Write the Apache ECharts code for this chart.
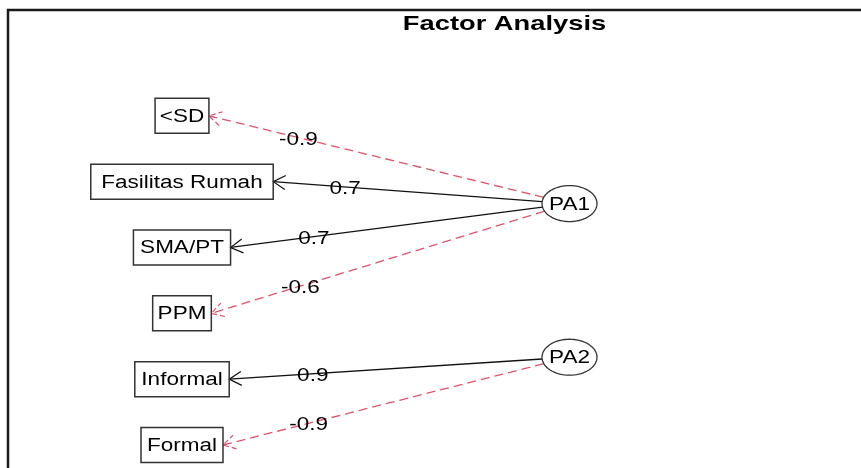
<!DOCTYPE html>
<html><head><meta charset="utf-8">
<script src="https://cdn.jsdelivr.net/npm/echarts@6/dist/echarts.min.js"></script>
<style>html,body{margin:0;padding:0;background:#fff}#c{width:861px;height:468px}</style>
</head><body><div id="c"></div>
<script>
// ---- data ----
const chartTitle = 'Factor Analysis';
const variables = ['<SD', 'Fasilitas Rumah', 'SMA/PT', 'PPM', 'Informal', 'Formal'];
const loadings = [-0.9, 0.7, 0.7, -0.6, 0.9, -0.9];
const factorOf = [0, 0, 0, 0, 1, 1];
const factors = ['PA1', 'PA2'];

// ---- layout / style ----
const FONT = '18px "Liberation Sans", Arial, sans-serif';
const SX = 1.25;
const POS_COL = '#111', NEG_COL = '#DF536B';
const mctx = document.createElement('canvas').getContext('2d');
mctx.font = FONT;
function boxW(t) { return mctx.measureText(t).width * SX * 1.1 + 5; }
const BOX_H = 35;
const RX = 27.5, RY = 18;
const nVar = variables.length, nFac = factors.length;
const fScale = (nVar + 1) / (nFac + 1);
const rowOf = i => nVar - i;
const facRow = j => nVar + 1 - fScale * (j + 1);

function txt(x, y, t, font) {
  return { type: 'text', x: x, y: y, scaleX: SX, z2: 10,
    style: { text: t, x: 0, y: 0, font: font || FONT, fill: '#000', align: 'center', verticalAlign: 'middle' } };
}

const chart = echarts.init(document.getElementById('c'), null, { renderer: 'canvas' });
chart.setOption({
  animation: false,
  backgroundColor: '#fff',
  grid: { left: 182, right: 291.5, top: 115.8, bottom: 23 },
  xAxis: { type: 'value', min: 0, max: 1, show: false },
  yAxis: { type: 'value', min: 1, max: 6, show: false },
  graphic: [
    { type: 'polyline', shape: { points: [[8, 470], [8, 10], [863, 10]] },
      style: { stroke: '#1a1a1a', lineWidth: 2.5, fill: null } },
    { type: 'text', x: 504.5, y: 24, scaleX: 1.3,
      style: { text: chartTitle, x: 0, y: 0, font: 'bold 21px "Liberation Sans", Arial, sans-serif',
        fill: '#000', align: 'center', verticalAlign: 'middle' } }
  ],
  series: [
    { // loading arrows
      type: 'custom', clip: false, silent: true,
      data: variables.map((v, i) => [0, rowOf(i), i]),
      renderItem: function (params, api) {
        const i = api.value(2);
        const f = factorOf[i];
        const c = api.coord([1, facRow(f)]);
        const b = api.coord([0, rowOf(i)]);
        const T = [b[0] + boxW(variables[i]) / 2, b[1]];
        let dx = T[0] - c[0], dy = T[1] - c[1];
        let ux = dx / RX, uy = dy / RY; const un = Math.hypot(ux, uy); ux /= un; uy /= un;
        const S = [c[0] + RX * ux, c[1] + RY * uy];
        const L = Math.hypot(S[0] - T[0], S[1] - T[1]);
        const vx = (S[0] - T[0]) / L, vy = (S[1] - T[1]) / L;
        const a = Math.PI / 6, hl = 14;
        const w1 = [T[0] + hl * (vx * Math.cos(a) - vy * Math.sin(a)), T[1] + hl * (vx * Math.sin(a) + vy * Math.cos(a))];
        const w2 = [T[0] + hl * (vx * Math.cos(-a) - vy * Math.sin(-a)), T[1] + hl * (vx * Math.sin(-a) + vy * Math.cos(-a))];
        const neg = loadings[i] < 0;
        const col = neg ? NEG_COL : POS_COL;
        const ls = { stroke: col, lineWidth: 1.3, fill: null, lineDash: neg ? [9, 5] : null };
        const lp = [T[0] + 0.267 * (S[0] - T[0]), T[1] + 0.267 * (S[1] - T[1])];
        return { type: 'group', children: [
          { type: 'line', shape: { x1: S[0], y1: S[1], x2: T[0], y2: T[1] }, style: ls },
          { type: 'polyline', shape: { points: [w1, T, w2] }, style: { stroke: col, lineWidth: 1.2, fill: null, lineDash: neg ? [5, 3] : null } },
          txt(lp[0], lp[1] + 2, String(loadings[i]))
        ] };
      }
    },
    { // variable boxes
      type: 'custom', clip: false, silent: true,
      data: variables.map((v, i) => [0, rowOf(i), i]),
      renderItem: function (params, api) {
        const i = api.value(2);
        const p = api.coord([0, rowOf(i)]);
        const w = boxW(variables[i]);
        return { type: 'group', children: [
          { type: 'rect', shape: { x: p[0] - w / 2, y: p[1] - BOX_H / 2, width: w, height: BOX_H },
            style: { stroke: '#333', lineWidth: 1.5, fill: 'rgba(255,255,255,0)' } },
          txt(p[0], p[1] + 1, variables[i])
        ] };
      }
    },
    { // factor ellipses
      type: 'custom', clip: false, silent: true,
      data: factors.map((f, j) => [1, facRow(j), j]),
      renderItem: function (params, api) {
        const j = api.value(2);
        const p = api.coord([1, facRow(j)]);
        const pts = [];
        for (let k = 0; k < 72; k++) { const t = k / 72 * Math.PI * 2; pts.push([p[0] + RX * Math.cos(t), p[1] + RY * Math.sin(t)]); }
        return { type: 'group', children: [
          { type: 'polygon', shape: { points: pts }, style: { stroke: '#333', lineWidth: 1.3, fill: '#fff' } },
          txt(p[0], p[1] + 1, factors[j])
        ] };
      }
    }
  ]
});
</script>
</body></html>
